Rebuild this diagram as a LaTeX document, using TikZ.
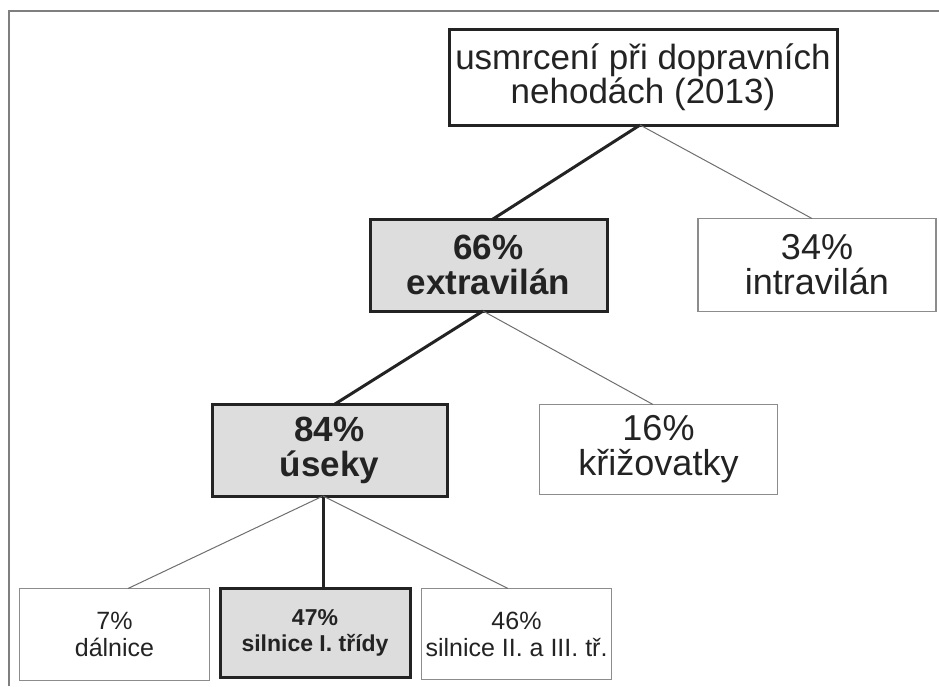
\documentclass[tikz,border=0pt]{standalone}
\usepackage{fontspec}
\setmainfont{Liberation Sans}
\usetikzlibrary{positioning}
\definecolor{inkdark}{HTML}{232323}
\definecolor{edgelight}{HTML}{8C8C8C}
\definecolor{linklight}{HTML}{6E6E6E}
\definecolor{boxgray}{HTML}{DDDDDD}
\definecolor{framegray}{HTML}{7F7F7F}

\begin{document}
\begin{tikzpicture}[x=1pt, y=-1pt,
    every node/.style={inner sep=0pt, outer sep=0pt, align=center, text=inkdark},
    rootbox/.style={draw=inkdark, line width=3pt, fill=white,
        font=\fontsize{35}{33}\selectfont},
    hibox/.style={draw=inkdark, line width=3pt, fill=boxgray,
        font=\fontsize{35}{35}\selectfont\bfseries},
    lobox/.style={draw=edgelight, line width=1.4pt, fill=white,
        font=\fontsize{36}{35}\selectfont},
    hismall/.style={draw=inkdark, line width=3pt, fill=boxgray,
        font=\fontsize{23}{26}\selectfont\bfseries},
    losmall/.style={draw=edgelight, line width=1.4pt, fill=white,
        font=\fontsize{25}{27}\selectfont},
    hilink/.style={draw=inkdark, line width=3pt},
    lolink/.style={draw=linklight, line width=1pt}]

    \useasboundingbox (0,0) rectangle (939,686);
    \draw[framegray, line width=1.5pt] (9,686) -- (9,11) -- (939,11);

    % level 0
    \node[rootbox, minimum width=388pt, minimum height=96pt] (root) at (643,77)
        {usmrcení při dopravních\\nehodách (2013)};

    % level 1
    \node[hibox, minimum width=237pt, minimum height=92pt] (extra) at (488.5,265)
        {66\%\\extravilán};
    \node[lobox, minimum width=238pt, minimum height=93pt] (intra) at (817,265)
        {34\%\\intravilán};

    % level 2
    \node[hibox, minimum width=235pt, minimum height=92pt] (useky) at (329.5,450)
        {84\%\\úseky};
    \node[lobox, minimum width=238pt, minimum height=90pt] (kriz) at (658.5,449.5)
        {16\%\\křižovatky};

    % level 3
    \node[losmall, minimum width=190pt, minimum height=92pt] (dal) at (114.5,634.5)
        {7\%\\dálnice};
    \node[hismall, minimum width=190pt, minimum height=89pt] (sil1) at (315,632.5)
        {47\%\\silnice I. třídy};
    \node[losmall, minimum width=190pt, minimum height=91pt] (sil23) at (516.5,634)
        {46\%\\silnice II. a III. tř.};

    % connectors
    \draw[hilink] ([xshift=-3pt]root.south) -- ([xshift=4.5pt]extra.north);
    \draw[lolink] ([xshift=-3pt]root.south) -- ([xshift=-5pt]intra.north);
    \draw[hilink] ([xshift=-5.5pt]extra.south) -- ([xshift=5.5pt]useky.north);
    \draw[lolink] ([xshift=-5.5pt]extra.south) -- ([xshift=-5.5pt]kriz.north);
    \draw[lolink] ([xshift=-6.5pt]useky.south) -- ([xshift=13.5pt]dal.north);
    \draw[hilink] ([xshift=-6.5pt]useky.south) -- ([xshift=8pt]sil1.north);
    \draw[lolink] ([xshift=-6.5pt]useky.south) -- ([xshift=-8.5pt]sil23.north);
\end{tikzpicture}
\end{document}
